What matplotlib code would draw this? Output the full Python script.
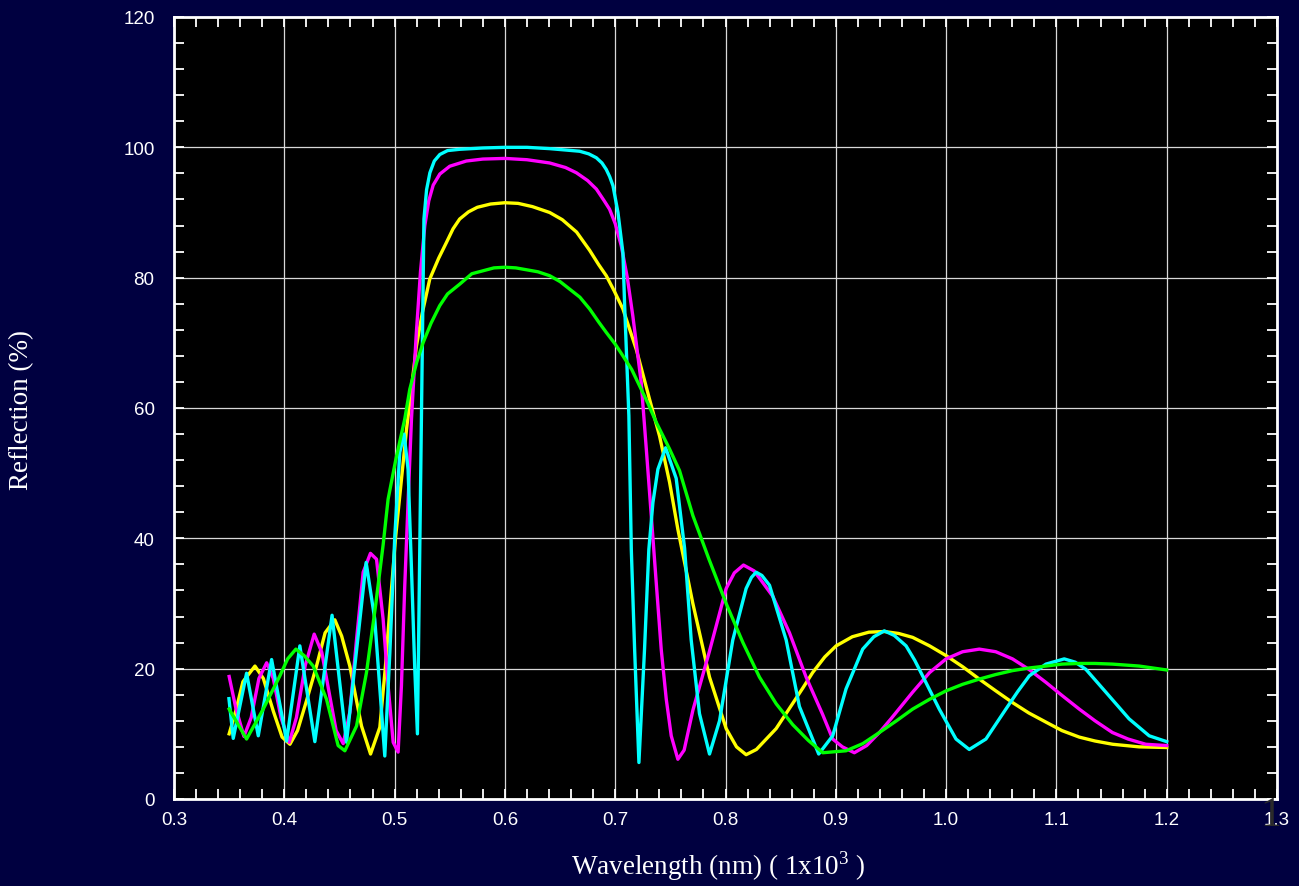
import matplotlib
matplotlib.use("Agg")
import matplotlib.pyplot as plt
from matplotlib.ticker import MultipleLocator, FormatStrFormatter

# Farben
bg = "#000040"

# Daten: (Wellenlänge in µm, Reflexion in %)
green_pts = [(0.350, 13.8), (0.3658, 9.2), (0.3809, 13.8), (0.396, 18.9), (0.403, 21.5),
             (0.4105, 23.0), (0.418, 22.0), (0.4262, 20.4), (0.4383, 15.3), (0.4488, 8.2),
             (0.4549, 7.4), (0.4655, 11.2), (0.4745, 19.4), (0.483, 30.0), (0.4896, 39.0),
             (0.4941, 46.0), (0.501, 52.0), (0.5092, 58.3), (0.5138, 62.9), (0.52, 67.0),
             (0.5258, 70.0), (0.533, 73.0), (0.5409, 75.7), (0.548, 77.5), (0.559, 79.0),
             (0.57, 80.6), (0.59, 81.5), (0.6, 81.6), (0.61, 81.5), (0.63, 80.9),
             (0.6406, 80.3), (0.65, 79.4), (0.668, 77.0), (0.6768, 75.2), (0.685, 73.2),
             (0.6919, 71.6), (0.70, 69.8), (0.707, 68.0), (0.715, 65.9), (0.7221, 63.4),
             (0.73, 60.6), (0.7372, 57.8), (0.7493, 53.7), (0.7583, 50.4), (0.7704, 43.5),
             (0.785, 36.8), (0.8006, 30.0), (0.8158, 24.0), (0.8308, 18.7), (0.846, 14.6),
             (0.861, 11.4), (0.875, 9.0), (0.8882, 7.1), (0.9093, 7.4), (0.9245, 8.5),
             (0.9395, 10.2), (0.955, 12.0), (0.9697, 13.8), (0.985, 15.3), (1.0, 16.6),
             (1.015, 17.6), (1.0301, 18.4), (1.045, 19.1), (1.0602, 19.7), (1.075, 20.1),
             (1.0905, 20.4), (1.105, 20.7), (1.1207, 20.8), (1.135, 20.8), (1.1508, 20.7),
             (1.175, 20.4), (1.2, 19.8)]

yellow_pts = [(0.350, 10.0), (0.356, 13.5), (0.3625, 18.0), (0.3734, 20.4), (0.381, 18.5),
              (0.390, 13.5), (0.398, 9.5), (0.4051, 8.4), (0.412, 10.5), (0.420, 15.0),
              (0.4292, 20.4), (0.437, 25.5), (0.4458, 27.5), (0.452, 25.0), (0.4594, 20.4),
              (0.465, 15.5), (0.470, 11.2), (0.4782, 6.9), (0.4866, 11.0), (0.4915, 20.0),
              (0.5008, 40.0), (0.5108, 56.7), (0.5198, 69.5), (0.525, 74.5), (0.5319, 79.8),
              (0.54, 83.0), (0.547, 85.4), (0.553, 87.5), (0.559, 89.0), (0.567, 90.1),
              (0.575, 90.8), (0.587, 91.3), (0.6, 91.5), (0.612, 91.4), (0.625, 90.9),
              (0.6406, 90.0), (0.652, 88.9), (0.665, 87.0), (0.6768, 84.2), (0.685, 82.0),
              (0.6919, 80.3), (0.699, 78.0), (0.707, 75.2), (0.7191, 69.0), (0.7312, 61.3),
              (0.7402, 55.7), (0.7493, 48.6), (0.7568, 41.4), (0.7704, 30.0), (0.7855, 18.7),
              (0.8006, 10.8), (0.81, 8.0), (0.8187, 6.8), (0.828, 7.6), (0.8459, 10.8),
              (0.87, 17.0), (0.879, 19.4), (0.89, 21.8), (0.9003, 23.5), (0.915, 24.9),
              (0.93, 25.6), (0.944, 25.7), (0.957, 25.4), (0.9697, 24.8), (0.985, 23.5),
              (1.0, 22.0), (1.015, 20.3), (1.0301, 18.4), (1.045, 16.6), (1.0602, 14.8),
              (1.075, 13.2), (1.0905, 11.8), (1.105, 10.5), (1.1207, 9.5), (1.135, 8.9),
              (1.151, 8.4), (1.175, 8.0), (1.2, 7.9)]

magenta_pts = [(0.350, 18.8), (0.356, 14.0), (0.3634, 9.6), (0.370, 12.5), (0.377, 18.5),
               (0.384, 20.9), (0.390, 18.5), (0.397, 12.5), (0.4045, 8.7), (0.411, 12.5),
               (0.419, 20.5), (0.4271, 25.3), (0.434, 22.5), (0.441, 16.0), (0.447, 10.5),
               (0.4534, 8.5), (0.4594, 13.3), (0.4655, 24.5), (0.4715, 34.8), (0.4781, 37.7),
               (0.4836, 36.8), (0.4896, 27.6), (0.4941, 17.4), (0.4987, 8.7), (0.5032, 7.2),
               (0.5062, 17.4), (0.5092, 32.7), (0.5122, 45.5), (0.5153, 58.3), (0.5195, 71.0),
               (0.5235, 81.0), (0.5274, 88.0), (0.531, 91.8), (0.535, 94.2), (0.541, 95.9),
               (0.55, 97.1), (0.565, 97.9), (0.58, 98.2), (0.6, 98.3), (0.62, 98.1),
               (0.6406, 97.6), (0.655, 96.9), (0.6648, 96.1), (0.675, 94.9), (0.6829, 93.6),
               (0.69, 91.8), (0.6949, 90.5), (0.70, 88.3), (0.7055, 84.9), (0.711, 80.0),
               (0.716, 74.1), (0.7236, 63.9), (0.7282, 53.7), (0.7327, 43.5), (0.7372, 33.2),
               (0.7417, 23.0), (0.7463, 15.3), (0.7508, 9.7), (0.7568, 6.1), (0.7625, 7.5),
               (0.7704, 13.6), (0.7855, 22.7), (0.8006, 32.3), (0.808, 34.7), (0.8163, 35.9),
               (0.826, 35.0), (0.8429, 31.1), (0.858, 25.5), (0.8731, 18.7), (0.888, 13.0),
               (0.8972, 9.2), (0.906, 8.0), (0.9168, 7.1), (0.928, 8.2), (0.9395, 10.2),
               (0.95, 12.3), (0.9697, 16.4), (0.985, 19.4), (1.0, 21.5), (1.015, 22.6),
               (1.0301, 23.0), (1.045, 22.6), (1.0602, 21.5), (1.075, 19.9), (1.0905, 17.9),
               (1.105, 15.9), (1.1207, 13.8), (1.135, 12.0), (1.1508, 10.2), (1.165, 9.2),
               (1.181, 8.4), (1.2, 8.2)]

cyan_pts = [(0.3498, 15.4), (0.3537, 9.3), (0.3658, 19.3), (0.3764, 9.7), (0.3885, 21.4),
            (0.4021, 8.9), (0.4141, 23.5), (0.4277, 8.8), (0.4433, 28.2), (0.4564, 8.7),
            (0.4742, 36.3), (0.482, 27.6), (0.4911, 6.6), (0.4957, 22.5), (0.5002, 40.4),
            (0.5047, 53.2), (0.5086, 56.0), (0.5122, 50.6), (0.5153, 35.3), (0.5183, 19.9),
            (0.5207, 10.0), (0.5266, 89.0), (0.529, 93.5), (0.532, 96.1), (0.536, 97.9),
            (0.541, 98.9), (0.548, 99.5), (0.559, 99.7), (0.58, 99.9), (0.6, 100.0),
            (0.62, 100.0), (0.6406, 99.8), (0.6678, 99.4), (0.676, 99.0), (0.6829, 98.4),
            (0.688, 97.6), (0.6919, 96.6), (0.695, 95.5), (0.698, 94.1), (0.7025, 90.0),
            (0.707, 83.8), (0.7085, 76.0), (0.7124, 58.8), (0.7146, 38.3), (0.7176, 23.0),
            (0.7215, 5.6), (0.7266, 23.0), (0.7305, 38.3), (0.7342, 45.5), (0.7387, 50.6),
            (0.7457, 53.9), (0.7553, 49.2), (0.7629, 38.5), (0.7689, 24.4), (0.7764, 13.1),
            (0.7855, 6.9), (0.7946, 12.0), (0.8066, 24.4), (0.8187, 32.3), (0.8235, 34.0),
            (0.8278, 34.8), (0.833, 34.3), (0.8399, 32.8), (0.855, 24.4), (0.867, 14.2),
            (0.8845, 6.9), (0.8972, 9.7), (0.9093, 16.9), (0.9244, 23.0), (0.9345, 24.9),
            (0.944, 25.8), (0.953, 25.1), (0.9637, 23.5), (0.9715, 21.3), (0.9787, 18.9),
            (0.9938, 13.8), (1.009, 9.2), (1.021, 7.6), (1.0361, 9.2), (1.0542, 13.8),
            (1.065, 16.5), (1.0754, 18.9), (1.0905, 20.7), (1.1071, 21.5), (1.117, 21.0),
            (1.1267, 19.9), (1.1448, 16.4), (1.1659, 12.3), (1.1841, 9.7), (1.2, 8.8)]

serien = [
    (yellow_pts, "#ffff00"),
    (magenta_pts, "#ff00ff"),
    (cyan_pts, "#00ffff"),
    (green_pts, "#00ff00"),
]

plt.rcParams["mathtext.fontset"] = "custom"
plt.rcParams["mathtext.rm"] = "Liberation Serif"

fig = plt.figure(figsize=(12.99, 8.87), dpi=100, facecolor=bg)
ax = fig.add_axes([174 / 1299, 1 - 800 / 887, (1277 - 174) / 1299, (800 - 18) / 887])
ax.set_facecolor("black")

for pts, farbe in serien:
    x = [p[0] for p in pts]
    y = [p[1] for p in pts]
    ax.plot(x, y, color=farbe, lw=2.4, solid_joinstyle="round")

ax.set_xlim(0.3, 1.3)
ax.set_ylim(0, 120)
ax.xaxis.set_major_locator(MultipleLocator(0.1))
ax.xaxis.set_minor_locator(MultipleLocator(0.02))
ax.yaxis.set_major_locator(MultipleLocator(20))
ax.yaxis.set_minor_locator(MultipleLocator(4))
ax.xaxis.set_major_formatter(FormatStrFormatter("%.1f"))

ax.grid(True, which="major", color="#d8d8d8", lw=0.9)
ax.set_axisbelow(True)

ax.tick_params(which="both", direction="in", top=True, right=True, color="white",
               length=7.5, width=1.3, labelcolor="white", labelsize=13.5)
ax.tick_params(axis="x", pad=9)
ax.tick_params(axis="y", pad=14)
for lbl in ax.get_xticklabels() + ax.get_yticklabels():
    lbl.set_family("Liberation Sans")
for s in ax.spines.values():
    s.set_color("white")
    s.set_linewidth(2)

fig.text(22 / 1299, 1 - 410 / 887, "Reflection (%)", rotation=90, color="white",
         family="Liberation Serif", fontsize=19.5, ha="center", va="center")
fig.text(718 / 1299, 1 - 866 / 887, "Wavelength (nm) ( 1x10$^3$ )", color="white",
         family="Liberation Serif", fontsize=19.5, ha="center", va="center")
# dunkle "1" unten rechts, wie im Original
fig.text(1271 / 1299, 1 - 816 / 887, "1", color="#2a2a2a", family="Liberation Serif",
         fontsize=30, ha="center", va="center")

fig.savefig("out.png", dpi=100, facecolor=bg)
